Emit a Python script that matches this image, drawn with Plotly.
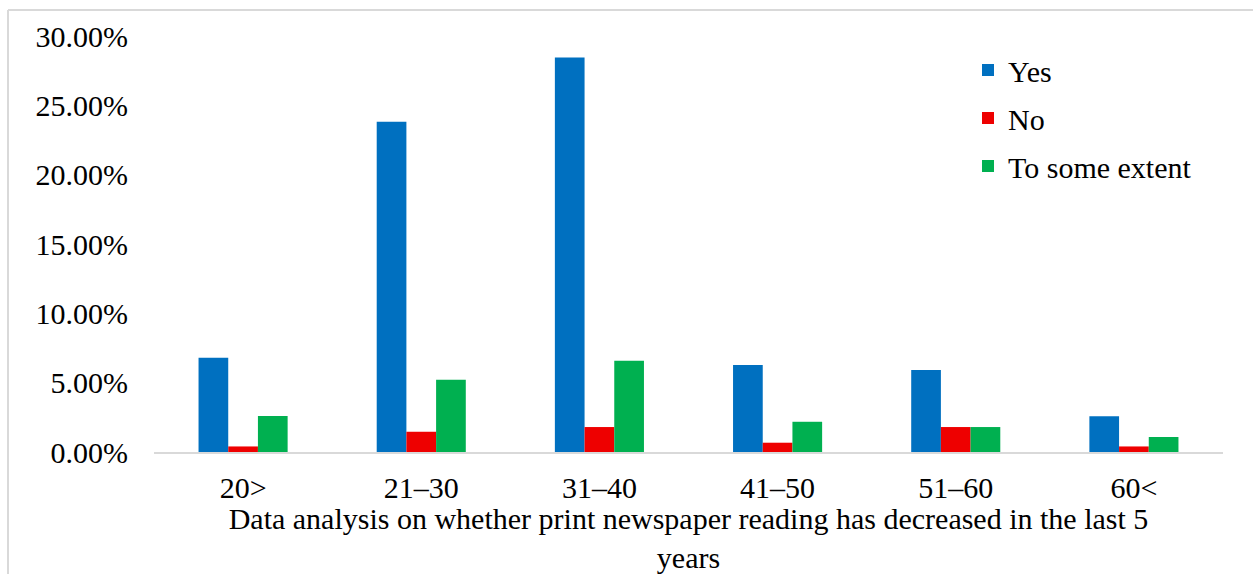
import plotly.graph_objects as go

# Age groups and share of respondents (%) for each answer
age_groups = ["20>", "21–30", "31–40", "41–50", "51–60", "60<"]
yes_pct = [6.80, 23.81, 28.45, 6.27, 5.91, 2.57]
no_pct = [0.40, 1.46, 1.80, 0.67, 1.80, 0.40]
some_pct = [2.60, 5.21, 6.58, 2.18, 1.80, 1.08]

series = [
    ("Yes", yes_pct, "#0070C0"),
    ("No", no_pct, "#EE0000"),
    ("To some extent", some_pct, "#00B050"),
]

FONT = "Liberation Serif"
FS = 30
W, H = 1253, 574
ML, MR, MT, MB = 154, 30, 36, 122

fig = go.Figure()
for i, (name, vals, color) in enumerate(series):
    fig.add_trace(go.Bar(
        x=age_groups, y=vals, name=name,
        marker=dict(color=color, line=dict(width=0)),
        legendgroup=f"g{i}",
    ))

pw = W - ML - MR
ph = H - MT - MB
# outer frame (left and top edges only)
x0 = (8 - ML) / pw
y_top = (H - 10 - MB) / ph
y_bot = (-MB - 5) / ph
x_right = (W + 5 - ML) / pw
fig.add_shape(type="line", xref="paper", yref="paper",
              x0=x0, x1=x0, y0=y_bot, y1=y_top,
              line=dict(color="#D9D9D9", width=2))
fig.add_shape(type="line", xref="paper", yref="paper",
              x0=x0, x1=x_right, y0=y_top, y1=y_top,
              line=dict(color="#D9D9D9", width=2))

fig.update_layout(
    width=W, height=H,
    margin=dict(l=ML, r=MR, t=MT, b=MB, autoexpand=False),
    paper_bgcolor="white", plot_bgcolor="white",
    barmode="group", bargap=0.5, bargroupgap=0,
    font=dict(family=FONT, size=FS, color="#000000"),
    legend=dict(
        x=(968 - ML) / pw, y=(H - 44 - MB) / ph,
        xanchor="left", yanchor="top",
        font=dict(family=FONT, size=FS),
        tracegroupgap=6, itemwidth=30,
        bgcolor="rgba(0,0,0,0)",
    ),
    xaxis=dict(
        showline=True, linecolor="#D9D9D9", linewidth=2,
        showgrid=False, ticks="", ticklabelstandoff=8,
        tickfont=dict(family=FONT, size=FS),
        title=dict(
            text="Data analysis on whether print newspaper reading has decreased in the last 5<br>years",
            font=dict(family=FONT, size=FS), standoff=13,
        ),
    ),
    yaxis=dict(
        range=[0, 30], dtick=5, showgrid=False, zeroline=False,
        showline=False, ticks="", ticksuffix="%", tickformat=".2f",
        ticklabelstandoff=25,
        tickfont=dict(family=FONT, size=FS),
    ),
    showlegend=True,
)

fig.write_html("out.html")
